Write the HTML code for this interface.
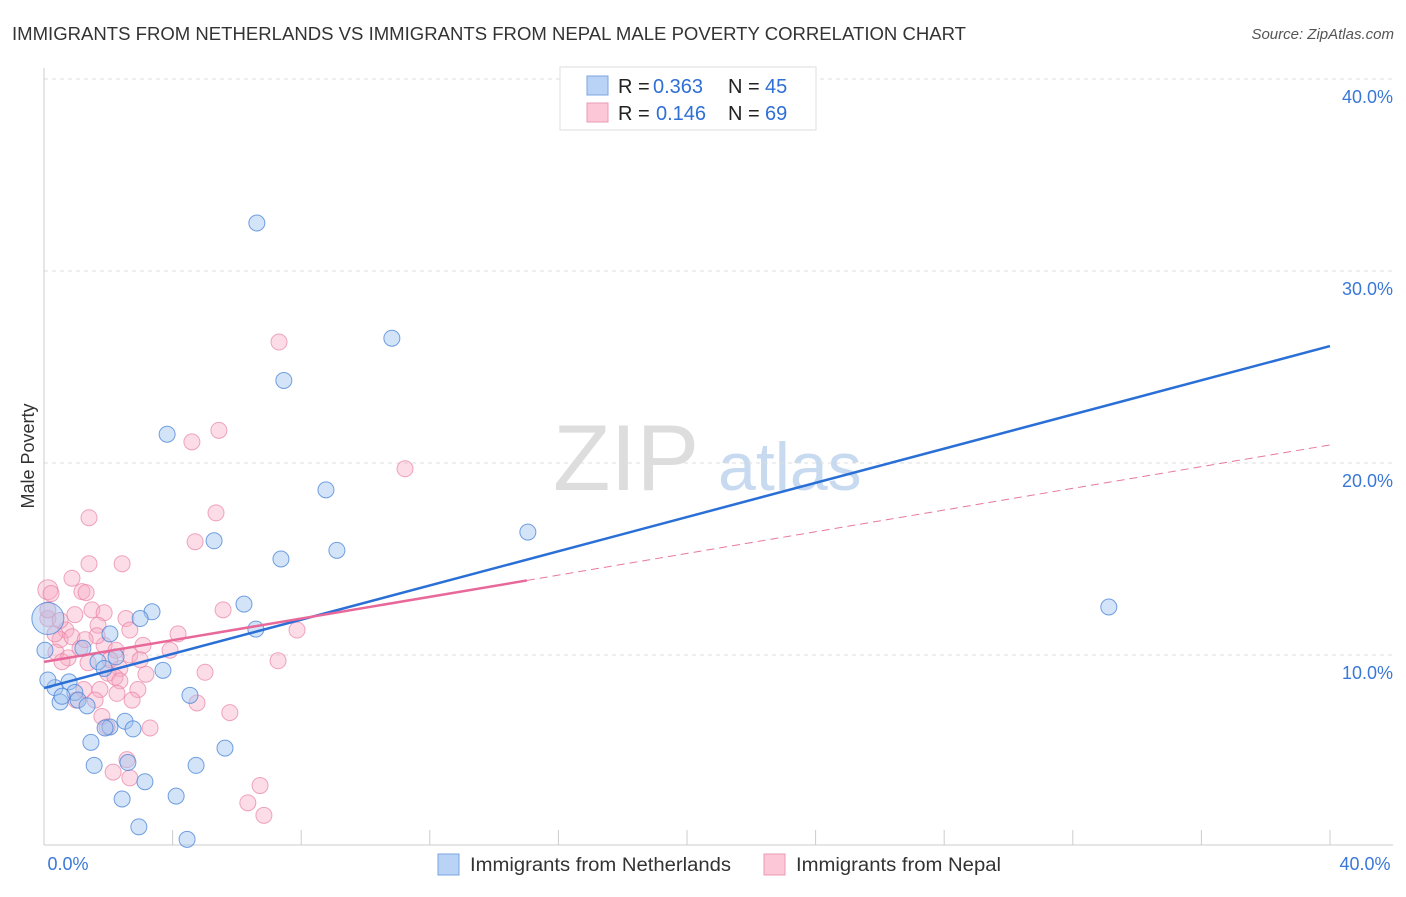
<!DOCTYPE html>
<html><head><meta charset="utf-8"><style>
body{margin:0;background:#fff;font-family:"Liberation Sans",sans-serif}
svg text{font-family:"Liberation Sans",sans-serif}
</style></head><body>
<svg id="c" width="1406" height="892" xmlns="http://www.w3.org/2000/svg">
<text x="12" y="40" font-size="18" fill="#333" textLength="954" lengthAdjust="spacingAndGlyphs">IMMIGRANTS FROM NETHERLANDS VS IMMIGRANTS FROM NEPAL MALE POVERTY CORRELATION CHART</text>
<text x="1394" y="39" font-size="15" fill="#555" text-anchor="end" font-style="italic">Source: ZipAtlas.com</text>
<text x="34" y="456" font-size="18" fill="#333" text-anchor="middle" transform="rotate(-90 34 456)">Male Poverty</text>
<g><text x="553" y="490" font-size="94" fill="#ddd" font-family="Liberation Serif">ZIP</text><text x="718" y="490" font-size="68" fill="#c8daf0">atlas</text></g>
<g id="grid"></g><g id="axes"></g><g id="marks"></g>
<g>
<rect x="560" y="67" width="256" height="63" fill="#fff" stroke="#ddd"/>
<rect x="587" y="76" width="21" height="19" fill="#b8d3f5" stroke="#7aa6e0"/>
<rect x="587" y="103" width="21" height="19" fill="#fcc8d8" stroke="#eb9ab4"/>
<text x="618" y="93" font-size="20" fill="#222">R =</text><text x="653" y="93" font-size="20" fill="#2f6fd6">0.363</text>
<text x="728" y="93" font-size="20" fill="#222">N =</text><text x="765" y="93" font-size="20" fill="#2f6fd6">45</text>
<text x="618" y="120" font-size="20" fill="#222">R =</text><text x="656" y="120" font-size="20" fill="#2f6fd6">0.146</text>
<text x="728" y="120" font-size="20" fill="#222">N =</text><text x="765" y="120" font-size="20" fill="#2f6fd6">69</text>
</g>
<g>
<rect x="438" y="854" width="21" height="21" fill="#b8d3f5" stroke="#7aa6e0"/>
<text x="470" y="871" font-size="19" fill="#333" textLength="261" lengthAdjust="spacingAndGlyphs">Immigrants from Netherlands</text>
<rect x="764" y="854" width="21" height="21" fill="#fcc8d8" stroke="#eb9ab4"/>
<text x="796" y="871" font-size="19" fill="#333" textLength="205" lengthAdjust="spacingAndGlyphs">Immigrants from Nepal</text>
</g>
</svg>
<script>
const yTicks=[10,20,30,40];
const yTickLabels=["10.0%","20.0%","30.0%","40.0%"];
const blueX=[6.62,10.82,7.46,3.83,8.77,15.05,5.29,7.37,9.11,33.12,6.22,3.36,2.99,6.59,2.05,0.12,1.21,1.68,2.24,1.87,3.70,0.34,0.78,0.96,0.50,1.06,1.34,4.54,2.52,2.05,2.77,1.46,5.63,1.56,2.61,4.73,3.14,2.43,4.11,2.95,4.45,0.12,1.90,0.56,0.03];
const blueY=[32.5,26.5,24.3,21.5,18.6,16.4,15.95,15.0,15.45,12.5,12.65,12.25,11.9,11.35,11.1,11.9,10.35,9.65,9.9,9.3,9.2,8.3,8.6,8.05,7.55,7.65,7.35,7.9,6.55,6.25,6.15,5.45,5.15,4.25,4.4,4.25,3.4,2.5,2.65,1.05,0.4,8.7,6.2,7.85,10.25];
const pinkX=[7.31,5.44,4.60,11.23,1.40,5.35,4.70,2.43,1.40,0.87,0.12,0.22,1.18,1.31,1.49,1.87,5.57,2.55,0.12,4.17,7.87,0.68,0.50,0.87,1.68,0.37,0.75,1.12,1.87,2.24,3.08,0.56,1.37,7.28,5.01,3.17,2.36,1.99,2.21,2.36,1.24,2.92,2.27,2.74,1.00,4.76,1.80,5.78,3.30,1.96,2.58,2.15,2.67,6.72,6.34,6.84,0.34,0.12,1.65,2.67,2.05,1.74,2.99,0.96,2.67,3.92,1.59,0.50,1.28];
const pinkY=[26.3,21.7,21.1,19.7,17.15,17.4,15.9,14.75,14.75,14.0,13.4,13.2,13.3,13.25,12.35,12.2,12.35,11.9,11.9,11.1,11.3,11.3,10.8,10.95,11.55,10.15,9.85,10.35,10.5,10.25,10.5,9.65,9.6,9.7,9.1,9.0,9.3,9.05,8.85,8.65,8.2,8.2,8.0,7.65,7.65,7.5,6.8,7.0,6.2,6.25,4.55,3.9,3.6,3.2,2.3,1.65,11.1,12.35,11.0,10.0,9.75,8.2,9.75,12.1,11.3,10.25,7.65,11.8,10.8];
const blueTrend=[8.28,26.09];
const pinkTrend=[9.64,20.94];
const pinkSolidEnd=15.02;
const NS="http://www.w3.org/2000/svg";
const sx=v=>44+v/40*1286, sy=v=>847-v*19.2;
function mk(t,a,p){const e=document.createElementNS(NS,t);for(const k in a)e.setAttribute(k,a[k]);document.getElementById(p).appendChild(e);return e;}
yTicks.forEach((t,i)=>{
 const g=mk('line',{x1:44,x2:1393,y1:sy(t),y2:sy(t),stroke:'#ddd','stroke-dasharray':'4,4'},'grid');
 
 
 const l=mk('text',{x:1393,y:sy(t)+24,'font-size':18,fill:'#3a78d8','text-anchor':'end'},'grid');
 l.textContent=yTickLabels[i];
 
 
});
mk('line',{x1:44,x2:44,y1:68,y2:845,stroke:'#ccc'},'axes');
mk('line',{x1:44,x2:1393,y1:845,y2:845,stroke:'#ccc'},'axes');
for(let i=1;i<=10;i++){const t=mk('line',{x1:sx(i*4),x2:sx(i*4),y1:830,y2:845,stroke:'#ccc'},'axes');
 
 }
[["0.0%",68,'middle'],["40.0%",1365,'middle']].forEach(a=>{const t=mk('text',{x:a[1],y:870,'font-size':18,fill:'#3a78d8','text-anchor':a[2]},'axes');t.textContent=a[0];
 
 });
pinkX.forEach((x,i)=>{const r=(i==10)?10:8;const c=mk('circle',{cx:sx(x),cy:sy(pinkY[i]),r:r,fill:'rgba(248,170,195,0.4)',stroke:'rgba(232,130,165,0.7)','stroke-width':1},'marks');
 
 });
blueX.forEach((x,i)=>{const r=(i==15)?16:8;const c=mk('circle',{cx:sx(x),cy:sy(blueY[i]),r:r,fill:'rgba(160,195,240,0.45)',stroke:'rgba(70,130,215,0.75)','stroke-width':1},'marks');
 
 });
const pl=t=>pinkTrend[0]+(pinkTrend[1]-pinkTrend[0])*t/40;
let d=mk('line',{x1:sx(pinkSolidEnd),y1:sy(pl(pinkSolidEnd)),x2:sx(40),y2:sy(pinkTrend[1]),stroke:'#e8789e','stroke-width':1,'stroke-dasharray':'8,5'},'marks');


let b=mk('line',{x1:sx(0),y1:sy(blueTrend[0]),x2:sx(40),y2:sy(blueTrend[1]),stroke:'#2a6fd6','stroke-width':2.5},'marks');


let p=mk('line',{x1:sx(0),y1:sy(pinkTrend[0]),x2:sx(pinkSolidEnd),y2:sy(pl(pinkSolidEnd)),stroke:'#e8689a','stroke-width':2.5},'marks');


</script>
</body></html>
